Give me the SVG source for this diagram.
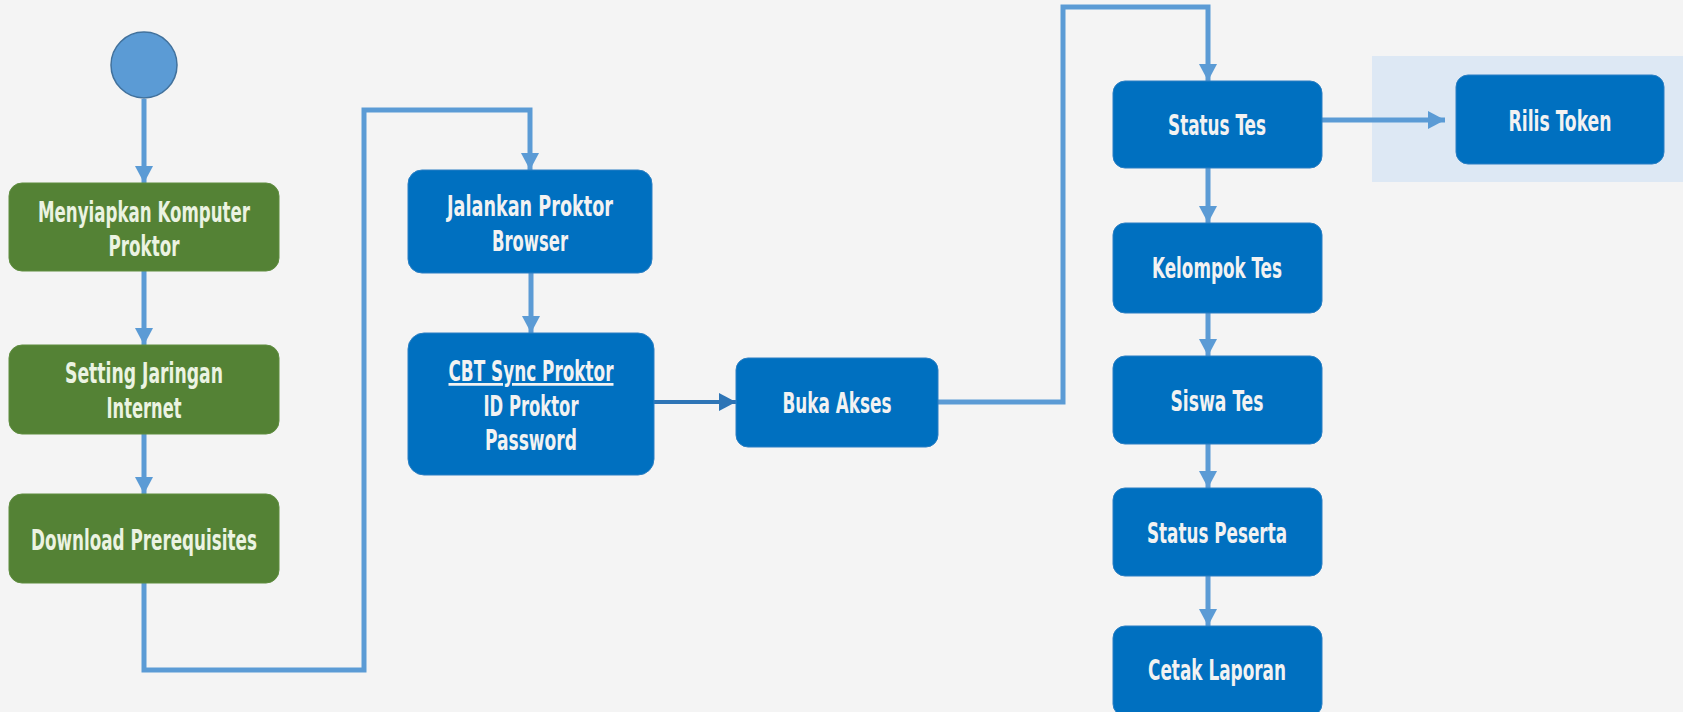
<svg xmlns="http://www.w3.org/2000/svg" width="1683" height="712" viewBox="0 0 1683 712">
<style>
.bg{fill:#f4f4f4}
.g{fill:#548235;stroke:#5f8d3f;stroke-width:1}
.b{fill:#0070c0;stroke:#2a7fc4;stroke-width:1}
.t{font-family:"DejaVu Sans Condensed","DejaVu Sans","Liberation Sans",sans-serif;font-stretch:condensed;font-weight:bold;font-size:27.5px;fill:#f2f2f2;text-anchor:middle}
.tg{fill:#ebf3e2}
.c{fill:none;stroke:#5b9bd5;stroke-width:5;stroke-linejoin:miter}
.cd{fill:none;stroke:#2e75b6;stroke-width:4}
</style>
<defs>
<marker id="ah" markerUnits="userSpaceOnUse" markerWidth="18" markerHeight="18" refX="17" refY="9" orient="auto">
<path d="M0,0 L17,9 L0,18 Z" fill="#5b9bd5"/>
</marker>
<marker id="ahd" markerUnits="userSpaceOnUse" markerWidth="18" markerHeight="18" refX="17" refY="9" orient="auto">
<path d="M0,0 L17,9 L0,18 Z" fill="#2e75b6"/>
</marker>
</defs>
<rect class="bg" x="0" y="0" width="1683" height="712"/>
<rect x="1372" y="56" width="311" height="126" fill="#dde8f4"/>

<g id="connectors">
<path class="c" d="M144,99 V183" marker-end="url(#ah)"/>
<path class="c" d="M144,271 V345" marker-end="url(#ah)"/>
<path class="c" d="M144,434 V494" marker-end="url(#ah)"/>
<path class="c" d="M144,583 V670 H364 V110 H530 V170" marker-end="url(#ah)"/>
<path class="c" d="M531,273 V333" marker-end="url(#ah)"/>
<path class="cd" d="M654,402 H736" marker-end="url(#ahd)"/>
<path class="c" d="M938,402 H1063 V7 H1208 V81" marker-end="url(#ah)"/>
<path class="c" d="M1208,168 V223" marker-end="url(#ah)"/>
<path class="c" d="M1208,313 V356" marker-end="url(#ah)"/>
<path class="c" d="M1208,444 V488" marker-end="url(#ah)"/>
<path class="c" d="M1208,576 V626" marker-end="url(#ah)"/>
<path class="c" d="M1315,120 H1445" marker-end="url(#ah)"/>
</g>

<g id="start"><circle cx="144" cy="65" r="33" fill="#5b9bd5" stroke="#41719c" stroke-width="1.5"/></g>

<g id="menyiapkan"><rect class="g" x="9" y="183" width="270" height="88" rx="13"/>
<text class="t tg" x="144" y="222" textLength="212" lengthAdjust="spacingAndGlyphs">Menyiapkan Komputer</text><text class="t tg" x="144" y="256" textLength="71" lengthAdjust="spacingAndGlyphs">Proktor</text></g>
<g id="setting"><rect class="g" x="9" y="345" width="270" height="89" rx="13"/>
<text class="t tg" x="144" y="383" textLength="158" lengthAdjust="spacingAndGlyphs">Setting Jaringan</text><text class="t tg" x="144" y="418" textLength="75" lengthAdjust="spacingAndGlyphs">Internet</text></g>
<g id="download"><rect class="g" x="9" y="494" width="270" height="89" rx="13"/>
<text class="t tg" x="144" y="550" textLength="226" lengthAdjust="spacingAndGlyphs">Download Prerequisites</text></g>

<g id="jalankan"><rect class="b" x="408" y="170" width="244" height="103" rx="14"/>
<text class="t" x="530" y="216" textLength="166" lengthAdjust="spacingAndGlyphs">Jalankan Proktor</text><text class="t" x="530" y="251" textLength="76" lengthAdjust="spacingAndGlyphs">Browser</text></g>
<g id="cbt"><rect class="b" x="408" y="333" width="246" height="142" rx="16"/>
<text class="t" x="531" y="381" textLength="165" lengthAdjust="spacingAndGlyphs" text-decoration="underline">CBT Sync Proktor</text><text class="t" x="531" y="416" textLength="95" lengthAdjust="spacingAndGlyphs">ID Proktor</text><text class="t" x="531" y="450" textLength="92" lengthAdjust="spacingAndGlyphs">Password</text></g>
<g id="buka"><rect class="b" x="736" y="358" width="202" height="89" rx="12"/>
<text class="t" x="837" y="413" textLength="109" lengthAdjust="spacingAndGlyphs">Buka Akses</text></g>

<g id="status-tes"><rect class="b" x="1113" y="81" width="209" height="87" rx="12"/>
<text class="t" x="1217" y="135" textLength="98" lengthAdjust="spacingAndGlyphs">Status Tes</text></g>
<g id="kelompok"><rect class="b" x="1113" y="223" width="209" height="90" rx="12"/>
<text class="t" x="1217" y="278" textLength="130" lengthAdjust="spacingAndGlyphs">Kelompok Tes</text></g>
<g id="siswa"><rect class="b" x="1113" y="356" width="209" height="88" rx="12"/>
<text class="t" x="1217" y="411" textLength="93" lengthAdjust="spacingAndGlyphs">Siswa Tes</text></g>
<g id="status-peserta"><rect class="b" x="1113" y="488" width="209" height="88" rx="12"/>
<text class="t" x="1217" y="543" textLength="140" lengthAdjust="spacingAndGlyphs">Status Peserta</text></g>
<g id="cetak"><rect class="b" x="1113" y="626" width="209" height="90" rx="12"/>
<text class="t" x="1217" y="680" textLength="138" lengthAdjust="spacingAndGlyphs">Cetak Laporan</text></g>

<g id="rilis"><rect class="b" x="1456" y="75" width="208" height="89" rx="12"/>
<text class="t" x="1560" y="131" textLength="103" lengthAdjust="spacingAndGlyphs">Rilis Token</text></g>
</svg>
